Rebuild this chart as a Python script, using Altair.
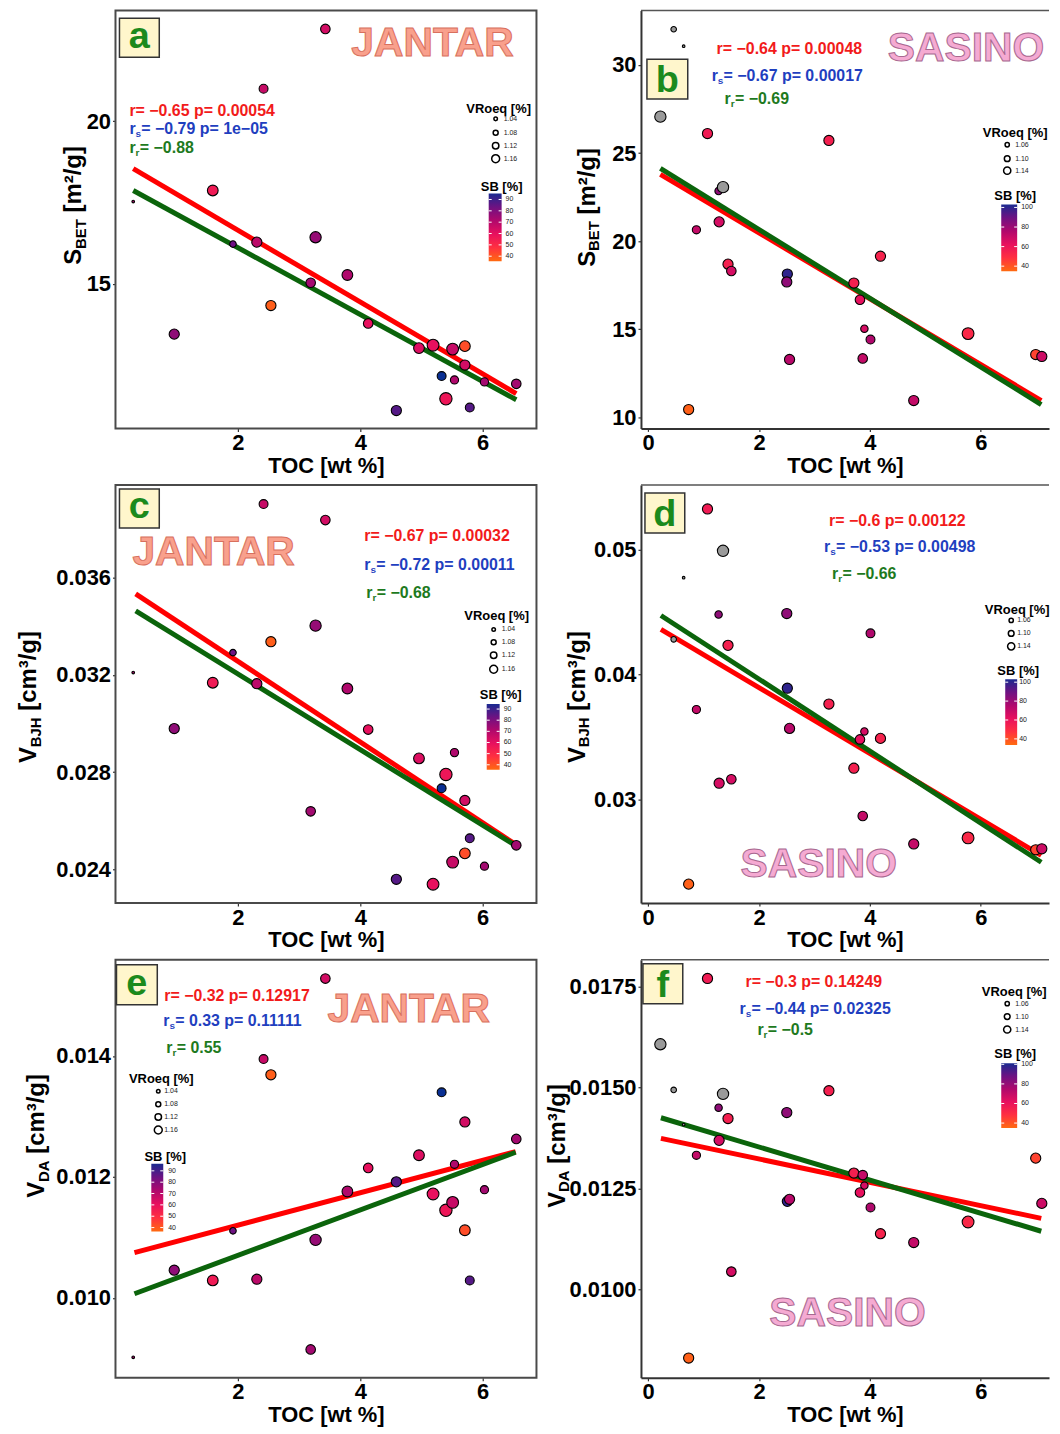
import altair as alt
import pandas as pd

FONT = "Liberation Sans"

# ---------------- data ----------------
JANTAR_TOC = [0.29, 0.96, 1.59, 1.92, 2.31, 2.42, 2.54, 3.19, 3.27, 3.43, 3.79, 4.13,
              4.59, 4.96, 5.19, 5.33, 5.40, 5.51, 5.54, 5.71, 5.71, 5.79, 6.03, 6.55]
JANTAR_SB = [70, 75, 57, 80, 68, 66, 42, 72, 74, 64, 70, 60,
             83, 62, 60, 92, 58, 66, 70, 45, 64, 83, 72, 72]
JANTAR_VRO = [1.01, 1.09, 1.10, 1.04, 1.09, 1.07, 1.09, 1.08, 1.11, 1.08, 1.10, 1.08,
              1.09, 1.10, 1.12, 1.07, 1.13, 1.12, 1.06, 1.10, 1.09, 1.07, 1.06, 1.08]
JANTAR_SBET = [17.53, 13.45, 17.87, 16.22, 16.28, 21.00, 14.33, 15.03, 16.43, 22.84, 15.27, 13.78,
               11.10, 13.02, 13.11, 12.16, 11.46, 12.99, 12.04, 13.08, 12.50, 11.19, 11.98, 11.92]
JANTAR_VBJH = [0.0321, 0.02979, 0.03168, 0.03292, 0.03164, 0.03904, 0.03337, 0.02638, 0.03403, 0.03838,
               0.03144, 0.02975, 0.02358, 0.02856, 0.02338, 0.02733, 0.0279, 0.02429, 0.0288, 0.02465,
               0.02683, 0.02527, 0.02412, 0.02498]
JANTAR_VDA = [0.00902, 0.01046, 0.01029, 0.01111, 0.01031, 0.01395, 0.01369, 0.00915, 0.01096, 0.01528,
              0.01176, 0.01215, 0.01192, 0.01236, 0.01172, 0.0134, 0.01145, 0.01158, 0.01221, 0.01112,
              0.01291, 0.01029, 0.01179, 0.01263]

SASINO_TOC = [0.46, 0.64, 0.22, 1.07, 3.26, 1.35, 1.27, 1.28, 0.87, 1.44, 1.50, 4.19,
              2.51, 2.50, 3.71, 3.82, 3.90, 4.01, 5.77, 2.55, 3.87, 6.99, 7.10, 4.79, 0.73]
SASINO_SB = [None, None, None, 60, 58, None, 82, 68, 72, 58, 68, 57,
             97, 82, 58, 64, 68, 76, 55, 74, 72, 48, 70, 72, 42]
SASINO_VRO = [1.03, 1.01, 1.11, 1.09, 1.09, 1.11, 1.05, 1.09, 1.06, 1.09, 1.08, 1.09,
              1.09, 1.09, 1.09, 1.08, 1.05, 1.07, 1.12, 1.09, 1.08, 1.09, 1.09, 1.09, 1.09]
SASINO_SBET = [32.03, 31.07, 27.07, 26.11, 25.72, 23.07, 22.85, 21.10, 20.65, 18.70, 18.31, 19.15,
               18.14, 17.69, 17.63, 16.68, 15.04, 14.42, 14.76, 13.29, 13.35, 13.57, 13.46, 10.96, 10.45]
SASINO_VBJH = [0.04283, 0.04777, None, 0.05327, 0.03765, 0.04992, 0.04482, 0.03131, 0.03721, 0.04235,
               0.03163, 0.0349, 0.03892, 0.0449, 0.03251, 0.03482, 0.03546, 0.04331, 0.02693, 0.0357,
               0.02869, 0.02598, 0.02606, 0.02645, 0.02323]
SASINO_VDA = [0.01494, 0.01408, 0.01607, 0.0177, 0.01492, 0.01484, 0.0145, 0.01369, 0.01332, 0.01423,
              0.01044, 0.01138, 0.01218, 0.01438, 0.01288, 0.0124, 0.01257, 0.01203, 0.01167, 0.01223,
              0.01283, 0.01325, 0.01213, 0.01116, 0.0083]

# fitted lines (end points): pearson (red) and robust (green)
FIT_TOC_A = [0.29, 6.55]; PEARSON_A = [18.54, 11.62]; ROBUST_A = [17.87, 11.43]
FIT_TOC_B = [0.22, 7.09]; PEARSON_B = [23.80, 10.96]; ROBUST_B = [24.14, 10.73]
FIT_TOC_C = [0.33, 6.52]; PEARSON_C = [0.03534, 0.02505]; ROBUST_C = [0.03464, 0.02500]
FIT_TOC_D = [0.23, 7.09]; PEARSON_D = [0.04363, 0.02554]; ROBUST_D = [0.04474, 0.02498]
FIT_TOC_E = [0.31, 6.54]; PEARSON_E = [0.01075, 0.01242]; ROBUST_E = [0.01007, 0.01241]
FIT_TOC_F = [0.23, 7.09]; PEARSON_F = [0.01374, 0.01176]; ROBUST_F = [0.01425, 0.01144]

STATS_A = ["r= \u22120.65 p= 0.00054", "= \u22120.79 p= 1e\u221205", "= \u22120.88"]
STATS_B = ["r= \u22120.64 p= 0.00048", "= \u22120.67 p= 0.00017", "= \u22120.69"]
STATS_C = ["r= \u22120.67 p= 0.00032", "= \u22120.72 p= 0.00011", "= \u22120.68"]
STATS_D = ["r= \u22120.6 p= 0.00122", "= \u22120.53 p= 0.00498", "= \u22120.66"]
STATS_E = ["r= \u22120.32 p= 0.12917", "= 0.33 p= 0.11111", "= 0.55"]
STATS_F = ["r= \u22120.3 p= 0.14249", "= \u22120.44 p= 0.02325", "= \u22120.5"]

SB_COLORS = ["#FF6A10", "#FF3040", "#E8105E", "#B0086C", "#6E1282", "#1A2A90"]
JANTAR_SB_STOPS = [40, 50, 60, 70, 80, 90]
SASINO_SB_STOPS = [40, 52, 64, 76, 88, 100]
JANTAR_SB_TICKS = [90, 80, 70, 60, 50, 40]
SASINO_SB_TICKS = [100, 80, 60, 40]
JANTAR_VRO_LEGEND = [1.04, 1.08, 1.12, 1.16]
SASINO_VRO_LEGEND = [1.06, 1.10, 1.14]

JANTAR_X_TICKS = [2, 4, 6]
SASINO_X_TICKS = [0, 2, 4, 6]

# ---------------- style helpers ----------------
W_L, W_R, H = 423, 410, 420
RED, BLUE, GREEN = "#F21B1B", "#1F3FBF", "#1E7A1E"
GRAY = "#9A9A9A"

dummy = pd.DataFrame({"d": [0]})

EM = {"A": .722, "B": .722, "D": .722, "E": .667, "H": .722, "J": .556, "S": .667, "T": .611,
      "V": .667, " ": .278, "[": .333, "]": .333, "m": .889, "c": .556, "g": .611, "/": .278,
      "\u00b2": .333, "\u00b3": .333}


def text_w(s, fs):
    return sum(EM.get(ch, 0.556) for ch in s) * fs


def T(x, y, s, size, fill="black", weight="bold", align="left", baseline="alphabetic",
      angle=None, stroke=None, sw=None):
    props = dict(text=s, font=FONT, fontSize=size, fontWeight=weight, fill=fill,
                 align=align, baseline=baseline)
    if angle is not None:
        props["angle"] = angle
    if stroke is not None:
        props["stroke"] = stroke
        props["strokeWidth"] = sw
    return alt.Chart(dummy).mark_text(**props).encode(x=alt.value(x), y=alt.value(y))


def x_axis(values, domain_line):
    kw = dict(values=values, format="d", title="TOC [wt %]", grid=False, labelFlush=False,
              ticks=True, tickSize=3, tickColor="#333", tickWidth=1.2,
              labelFont=FONT, labelFontSize=22, labelFontWeight="bold", labelColor="black",
              labelPadding=1, titleFont=FONT, titleFontSize=22, titleFontWeight="bold",
              titleColor="black", titlePadding=2, domain=domain_line)
    if domain_line:
        kw.update(domainColor="#333", domainWidth=2)
    return alt.Axis(**kw)


def y_axis(values, fmt, domain_line):
    kw = dict(values=values, format=fmt, title=None, grid=False, labelFlush=False,
              ticks=True, tickSize=3, tickColor="#333", tickWidth=1.2,
              labelFont=FONT, labelFontSize=22, labelFontWeight="bold", labelColor="black",
              labelPadding=2, domain=domain_line)
    if domain_line:
        kw.update(domainColor="#333", domainWidth=2)
    return alt.Axis(**kw)


SIZE_SCALE = alt.Scale(domain=[1.01, 1.15], range=[7, 177], zero=False)

GRADIENT = {"gradient": "linear", "x1": 0, "y1": 1, "x2": 0, "y2": 0,
            "stops": [{"offset": i / 5, "color": c} for i, c in enumerate(SB_COLORS)]}


def data_layers(toc, yv, sb, vro, xs, ys, xa, ya, sb_stops, ftoc, pearson, robust):
    enc_xy = dict(x=alt.X("toc:Q", scale=xs, axis=xa), y=alt.Y("y:Q", scale=ys, axis=ya))
    fit_df = pd.DataFrame({"toc": ftoc + ftoc, "y": pearson + robust,
                           "fit": ["pearson"] * 2 + ["robust"] * 2})
    red = alt.Chart(fit_df).transform_filter("datum.fit == 'pearson'").mark_line(
        color="#FF0000", strokeWidth=5, strokeCap="butt").encode(**enc_xy)
    green = alt.Chart(fit_df).transform_filter("datum.fit == 'robust'").mark_line(
        color="#0B640B", strokeWidth=5, strokeCap="butt").encode(**enc_xy)
    df = pd.DataFrame({"toc": toc, "y": yv, "sb": sb, "vro": vro})
    base = alt.Chart(df).transform_filter("isValid(datum.y)")
    size = alt.Size("vro:Q", scale=SIZE_SCALE, legend=None)
    colored = base.transform_filter("isValid(datum.sb)").mark_circle(
        stroke="black", strokeWidth=1.1, opacity=1).encode(
        color=alt.Color("sb:Q", scale=alt.Scale(domain=sb_stops, range=SB_COLORS, interpolate="rgb"),
                        legend=None),
        size=size, **enc_xy)
    layers = [red, green, colored]
    if any(v is None for v in sb):
        gray = base.transform_filter("!isValid(datum.sb)").mark_circle(
            fill=GRAY, stroke="black", strokeWidth=1.1, opacity=1).encode(size=size, **enc_xy)
        layers.append(gray)
    return layers


def frame_layers(width, jantar):
    if jantar:
        return [alt.Chart(dummy).mark_rect(fill="white", fillOpacity=0, stroke="#4a4a4a", strokeWidth=2)
                .encode(x=alt.value(0), x2=alt.value(width), y=alt.value(0), y2=alt.value(H))]
    return [alt.Chart(dummy).mark_rule(color="#555", strokeWidth=1.5)
            .encode(x=alt.value(0), x2=alt.value(width), y=alt.value(0))]


def letter_layers(letter, x1, x2, y1, y2):
    box = alt.Chart(dummy).mark_rect(fill="#FFF6CC", stroke="#333", strokeWidth=1.5).encode(
        x=alt.value(x1), x2=alt.value(x2), y=alt.value(y1), y2=alt.value(y2))
    off = 10 if letter in "ace" else 13
    return [box, T((x1 + x2) / 2, (y1 + y2) / 2 + off, letter, 38, fill="#1C8A1C", align="center")]


def site_layer(name, x, yc):
    if name == "JANTAR":
        fill, stroke = "#F9A08C", "#D8705E"
    else:
        fill, stroke = "#F5AAD2", "#A86890"
    return [T(x, yc + 0.358 * 41, name, 41, fill=fill, stroke=stroke, sw=1)]


def stats_layers(pos, texts):
    (xr, yr), (xs_, ys_), (xg, yg) = pos
    red, blue, green = texts
    fs, sfs = 16, 10
    return [
        T(xr, yr + 6, red, fs, fill=RED),
        T(xs_, ys_ + 6, "r", fs, fill=BLUE), T(xs_ + 6.2, ys_ + 9, "s", sfs, fill=BLUE),
        T(xs_ + 12, ys_ + 6, blue, fs, fill=BLUE),
        T(xg, yg + 6, "r", fs, fill=GREEN), T(xg + 6.2, yg + 9, "r", sfs, fill=GREEN),
        T(xg + 10.5, yg + 6, green, fs, fill=GREEN),
    ]


def ytitle_layers(xc, yc, main, sub, rest):
    # rest is drawn after a space (SVG collapses leading blanks, so the gap is an offset)
    fs, sfs = 24, 15
    gap = 0.278 * fs
    w1, w2, w3 = text_w(main, fs), text_w(sub, sfs), text_w(rest, fs)
    y0 = yc + (w1 + w2 + gap + w3) / 2
    return [T(xc + 8.5, y0, main, fs, angle=270),
            T(xc + 13, y0 - w1, sub, sfs, angle=270),
            T(xc + 8.5, y0 - w1 - w2 - gap, rest, fs, angle=270)]


def legend_layers(vro_vals, vt, cx, cys, lx, st, grad, sb_ticks, slx, sy0, sy1):
    L = [T(vt[0], vt[1] + 4.6, "VRoeq [%]", 13, align="center")]
    for v, cy in zip(vro_vals, cys):
        d = 4 + (v - 1.04) * 41.7
        L.append(alt.Chart(dummy).mark_point(shape="circle", filled=True, fill="white", stroke="black",
                                             strokeWidth=1.5, opacity=1, size=3.1416 * (d / 2) ** 2)
                 .encode(x=alt.value(cx), y=alt.value(cy)))
        L.append(T(lx, cy, f"{v:.2f}", 7, fill="#222", weight="normal", baseline="middle"))
    L.append(T(st[0], st[1] + 4.6, "SB [%]", 13, align="center"))
    gx1, gx2, gy1, gy2 = grad
    L.append(alt.Chart(dummy).mark_rect(fill=GRADIENT).encode(
        x=alt.value(gx1), x2=alt.value(gx2), y=alt.value(gy1), y2=alt.value(gy2)))
    n = len(sb_ticks)
    step = (sy1 - sy0) / (n - 1)
    for i, t in enumerate(sb_ticks):
        ty = sy0 + i * step
        for a, b in ((gx1, gx1 + 3), (gx2 - 3, gx2)):
            L.append(alt.Chart(dummy).mark_rule(color="white", strokeWidth=1).encode(
                x=alt.value(a), x2=alt.value(b), y=alt.value(ty)))
        L.append(T(slx, ty, str(t), 7, fill="#222", weight="normal", baseline="middle"))
    return L


def jscale_x():
    return alt.Scale(domain=[0, 6.88], nice=False, zero=False)


def sscale_x():
    return alt.Scale(domain=[-0.13, 7.23], nice=False, zero=False)


# ---------------- panels ----------------
# a
pa_layers = [alt.Chart(dummy).mark_rule(color="white", strokeWidth=1).encode(
    x=alt.value(-107), y=alt.value(10), y2=alt.value(12))]
pa_layers += frame_layers(W_L, True)
pa_layers += data_layers(JANTAR_TOC, JANTAR_SBET, JANTAR_SB, JANTAR_VRO, jscale_x(),
                         alt.Scale(domain=[10.55, 23.41], nice=False, zero=False),
                         x_axis(JANTAR_X_TICKS, False), y_axis([15, 20], "d", False),
                         JANTAR_SB_STOPS, FIT_TOC_A, PEARSON_A, ROBUST_A)
pa_layers += letter_layers("a", 4, 44, 8, 47)
pa_layers += site_layer("JANTAR", 237, 31)
pa_layers += stats_layers([(14, 100), (14, 118), (14, 137)], STATS_A)
pa_layers += ytitle_layers(-43, 196, "S", "BET", "[m\u00b2/g]")
pa_layers += legend_layers(JANTAR_VRO_LEGEND, (385, 98), 382, [109, 123, 136, 149], 390,
                           (388, 177), (375, 388, 184, 252), JANTAR_SB_TICKS, 392, 190, 247)
pa = alt.layer(*pa_layers).properties(width=W_L, height=H)

# b
pb_layers = frame_layers(W_R, False)
pb_layers += data_layers(SASINO_TOC, SASINO_SBET, SASINO_SB, SASINO_VRO, sscale_x(),
                         alt.Scale(domain=[9.38, 33.1], nice=False, zero=False),
                         x_axis(SASINO_X_TICKS, True), y_axis([10, 15, 20, 25, 30], "d", True),
                         SASINO_SB_STOPS, FIT_TOC_B, PEARSON_B, ROBUST_B)
pb_layers += letter_layers("b", 6, 47, 49, 89)
pb_layers += site_layer("SASINO", 248, 36)
pb_layers += stats_layers([(76, 38), (71, 65), (84, 88)], STATS_B)
pb_layers += ytitle_layers(-55, 198, "S", "BET", "[m\u00b2/g]")
pb_layers += legend_layers(SASINO_VRO_LEGEND, (376, 123), 368, [135, 149, 161], 376,
                           (376, 186), (362, 378, 195, 262), SASINO_SB_TICKS, 382, 198, 257)
pb = alt.layer(*pb_layers).properties(width=W_R, height=H)

# c
pc_layers = frame_layers(W_L, True)
pc_layers += data_layers(JANTAR_TOC, JANTAR_VBJH, JANTAR_SB, JANTAR_VRO, jscale_x(),
                         alt.Scale(domain=[0.0226, 0.03982], nice=False, zero=False),
                         x_axis(JANTAR_X_TICKS, False),
                         y_axis([0.024, 0.028, 0.032, 0.036], ".3f", False),
                         JANTAR_SB_STOPS, FIT_TOC_C, PEARSON_C, ROBUST_C)
pc_layers += letter_layers("c", 4, 44, 4, 43)
pc_layers += site_layer("JANTAR", 17, 66)
pc_layers += stats_layers([(250, 50), (250, 79), (252, 107)], STATS_C)
pc_layers += ytitle_layers(-88, 213, "V", "BJH", "[cm\u00b3/g]")
pc_layers += legend_layers(JANTAR_VRO_LEGEND, (383, 131), 380, [145, 158, 171, 185], 388,
                           (387, 210), (373, 386, 220, 286), JANTAR_SB_TICKS, 390, 225, 281)
pc = alt.layer(*pc_layers).properties(width=W_L, height=H)

# d
pd_layers = frame_layers(W_R, False)
pd_layers += data_layers(SASINO_TOC, SASINO_VBJH, SASINO_SB, SASINO_VRO, sscale_x(),
                         alt.Scale(domain=[0.02171, 0.05518], nice=False, zero=False),
                         x_axis(SASINO_X_TICKS, True), y_axis([0.03, 0.04, 0.05], ".2f", True),
                         SASINO_SB_STOPS, FIT_TOC_D, PEARSON_D, ROBUST_D)
pd_layers += letter_layers("d", 4, 44, 8, 48)
pd_layers += site_layer("SASINO", 100, 379)
pd_layers += stats_layers([(189, 35), (184, 61), (192, 88)], STATS_D)
pd_layers += ytitle_layers(-65, 213, "V", "BJH", "[cm\u00b3/g]")
pd_layers += legend_layers(SASINO_VRO_LEGEND, (378, 125), 372, [136, 149, 162], 378,
                           (379, 186), (366, 378, 195, 261), SASINO_SB_TICKS, 380, 198, 255)
pdd = alt.layer(*pd_layers).properties(width=W_R, height=H)

# e
pe_layers = frame_layers(W_L, True)
pe_layers += data_layers(JANTAR_TOC, JANTAR_VDA, JANTAR_SB, JANTAR_VRO, jscale_x(),
                         alt.Scale(domain=[0.00868, 0.01559], nice=False, zero=False),
                         x_axis(JANTAR_X_TICKS, False),
                         y_axis([0.010, 0.012, 0.014], ".3f", False),
                         JANTAR_SB_STOPS, FIT_TOC_E, PEARSON_E, ROBUST_E)
pe_layers += letter_layers("e", 1, 42, 5, 45)
pe_layers += site_layer("JANTAR", 213, 48)
pe_layers += stats_layers([(49, 35), (48, 60), (51, 88)], STATS_E)
pe_layers += ytitle_layers(-80, 177, "V", "DA", "[cm\u00b3/g]")
pe_layers += legend_layers(JANTAR_VRO_LEGEND, (46, 119), 43, [132, 145, 158, 171], 49,
                           (50, 198), (36, 48, 205, 273), JANTAR_SB_TICKS, 53, 212, 269)
pe = alt.layer(*pe_layers).properties(width=W_L, height=H)

# f
pf_layers = frame_layers(W_R, False)
pf_layers += data_layers(SASINO_TOC, SASINO_VDA, SASINO_SB, SASINO_VRO, sscale_x(),
                         alt.Scale(domain=[0.00781, 0.01816], nice=False, zero=False),
                         x_axis(SASINO_X_TICKS, True),
                         y_axis([0.0100, 0.0125, 0.0150, 0.0175], ".4f", True),
                         SASINO_SB_STOPS, FIT_TOC_F, PEARSON_F, ROBUST_F)
pf_layers += letter_layers("f", 2, 42, 4, 44)
pf_layers += site_layer("SASINO", 129, 353)
pf_layers += stats_layers([(105, 21), (99, 48), (117, 70)], STATS_F)
pf_layers += ytitle_layers(-85, 187, "V", "DA", "[cm\u00b3/g]")
pf_layers += legend_layers(SASINO_VRO_LEGEND, (375, 32), 368, [44, 57, 70], 376,
                           (376, 94), (362, 378, 104, 169), SASINO_SB_TICKS, 382, 105, 164)
pf = alt.layer(*pf_layers).properties(width=W_R, height=H)

chart = alt.concat(pa, pb, pc, pdd, pe, pf, columns=2,
                   spacing={"row": 57, "column": 105}, bounds="flush").resolve_scale(
    x="independent", y="independent", color="independent", size="independent"
).properties(
    padding={"left": 0, "top": -3, "right": 0, "bottom": 0}
).configure_view(stroke="transparent")

chart.save("out.html", embed_options={"renderer": "svg", "actions": False})
